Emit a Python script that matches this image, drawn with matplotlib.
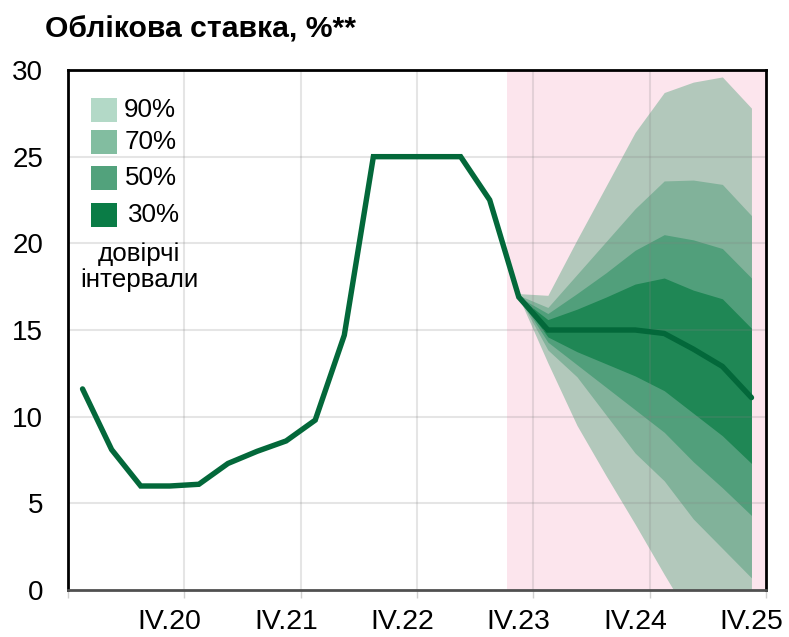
import matplotlib
matplotlib.use("Agg")
import matplotlib.pyplot as plt
from matplotlib.patches import Rectangle
import numpy as np

plt.rcParams['font.family'] = ['Liberation Sans', 'DejaVu Sans']

# ---- data ----
years = ["20", "21", "22", "23", "24", "25"]
quarters = ["I", "II", "III", "IV"]
categories = [f"{q}.{y}" for y in years for q in quarters]

rate = [11.6, 8.1, 6.0, 6.0, 6.1, 7.3, 8.0, 8.6, 9.8, 14.7, 25.0, 25.0,
        25.0, 25.0, 22.5, 16.9, 15.0, 15.0, 15.0, 15.0, 14.8, 13.9, 12.9, 11.1]

fan_start = 15  # index of first forecast-band category
hi90 = [17.1, 17.0, 20.2, 23.3, 26.4, 28.7, 29.3, 29.6, 27.8]
hi70 = [17.0, 16.3, 18.2, 20.1, 22.0, 23.6, 23.65, 23.4, 21.6]
hi50 = [16.9, 15.95, 17.1, 18.3, 19.6, 20.5, 20.2, 19.7, 18.0]
hi30 = [16.9, 15.6, 16.2, 16.9, 17.65, 18.0, 17.3, 16.8, 15.1]
lo30 = [16.9, 14.6, 13.75, 13.05, 12.35, 11.5, 10.2, 8.9, 7.3]
lo50 = [16.9, 14.3, 13.0, 11.7, 10.4, 9.1, 7.4, 5.9, 4.3]
lo70 = [16.9, 13.85, 12.3, 10.1, 7.9, 6.3, 4.1, 2.4, 0.7]
lo90 = [16.9, 13.1, 9.5, 6.6, 3.8, 0.9, -1.9, -2.5, -3.0]

band_labels = ["90%", "70%", "50%", "30%"]
band_colors = ["#B2C8BB", "#81B29A", "#519F7B", "#1F8755"]
legend_colors = ["#B3D9C7", "#82BDA0", "#52A27C", "#0A7C46"]
line_color = "#03683A"
pink = "#FCE5ED"

title = "Облікова ставка, %**"
legend_note = "довірчі\nінтервали"

# ---- figure ----
W, H = 789, 637
fig = plt.figure(figsize=(W / 100, H / 100), dpi=100)
L, R, T, B = 68, 766, 70, 590
ax = fig.add_axes([L / W, 1 - B / H, (R - L) / W, (B - T) / H])

x = np.arange(len(categories))
xf = x[fan_start:]

ax.axvspan(14.6, 23.5, color=pink, zorder=0.5, lw=0)

lows = [lo90, lo70, lo50, lo30]
highs = [hi90, hi70, hi50, hi30]
for lo, hi, c in zip(lows, highs, band_colors):
    ax.fill_between(xf, lo, hi, color=c, lw=0, zorder=1)

# gridlines
for yv in [5, 10, 15, 20, 25]:
    ax.axhline(yv, color=(0.5, 0.5, 0.5), alpha=0.2, lw=1.5, zorder=2)
for xv in [3.5, 7.5, 11.5, 15.5, 19.5]:
    ax.axvline(xv, color=(0.5, 0.5, 0.5), alpha=0.2, lw=1.5, zorder=2)

ax.plot(x, rate, color=line_color, lw=3.9, zorder=3, solid_capstyle='round',
        solid_joinstyle='miter')

ax.set_xlim(-0.5, 23.5)
ax.set_ylim(0, 30)
ax.set_yticks([0, 5, 10, 15, 20, 25, 30])
ax.tick_params(axis='y', length=0, pad=18, labelsize=20)
major = [i for i, c in enumerate(categories) if c.startswith("IV.")]
ax.set_xticks(major)
ax.set_xticklabels([categories[i] for i in major])
ax.set_xticks([-0.5, 3.5, 7.5, 11.5, 15.5, 19.5, 23.5], minor=True)
ax.tick_params(axis='x', which='major', length=0, pad=14, labelsize=20.5)
ax.tick_params(axis='x', which='minor', length=6, width=1, color='#D0D0D0')

for s in ['left', 'top', 'right']:
    ax.spines[s].set_color('black')
    ax.spines[s].set_linewidth(2)
ax.spines['bottom'].set_color('#505050')
ax.spines['bottom'].set_linewidth(2)

# title
fig.text(45 / W, 1 - 37 / H, title, fontsize=21.7, fontweight='bold',
         ha='left', va='baseline')

# manual legend
rows_y = [110, 142, 178, 215]
text_x = [124, 125, 125, 128]
for yc, tx, lab, c in zip(rows_y, text_x, band_labels, legend_colors):
    fig.patches.append(Rectangle((91 / W, 1 - (yc + 12) / H), 26 / W, 24 / H,
                                 transform=fig.transFigure, color=c, lw=0))
    fig.text(tx / W, 1 - yc / H, lab, fontsize=18.7, ha='left', va='center')
fig.text(139 / W, 1 - 267 / H, legend_note, fontsize=18.7, ha='center',
         va='center', linespacing=1.15)

fig.savefig("out.png", dpi=100)
